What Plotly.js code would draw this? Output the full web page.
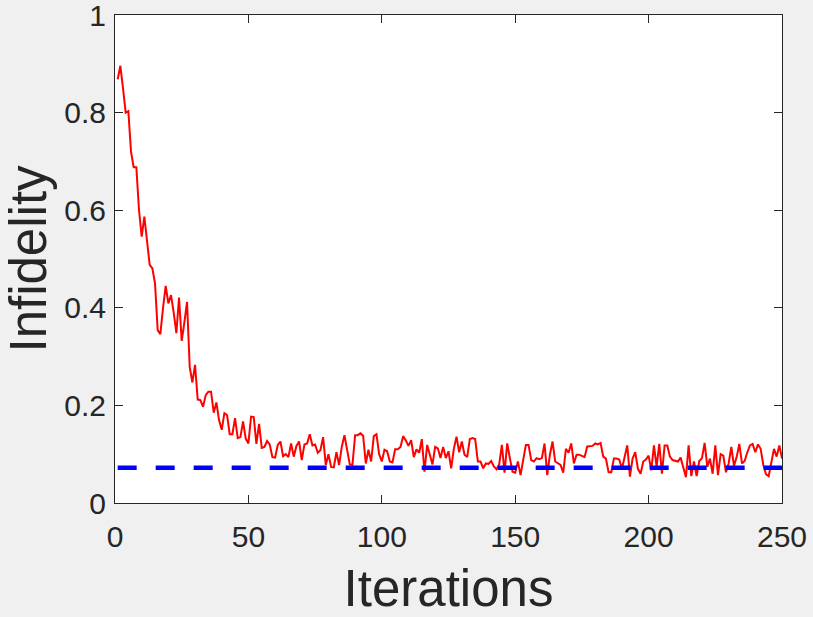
<!DOCTYPE html>
<html>
<head>
<meta charset="utf-8">
<script src="https://cdn.plot.ly/plotly-3.0.1.min.js"></script>
<style>
  html, body { margin: 0; padding: 0; background: #f0f0f0; }
  #chart { width: 813px; height: 617px; }
</style>
</head>
<body>
<div id="chart"></div>
<script>
// Infidelity recorded at each optimisation iteration
const infidelity = [
  0.868, 0.896, 0.850, 0.800, 0.803, 0.720, 0.688, 0.688, 0.600, 0.546,
  0.587, 0.535, 0.488, 0.481, 0.450, 0.354, 0.346, 0.400, 0.445, 0.409,
  0.426, 0.390, 0.348, 0.421, 0.332, 0.370, 0.412, 0.279, 0.247, 0.283,
  0.212, 0.211, 0.197, 0.221, 0.228, 0.228, 0.185, 0.206, 0.170, 0.150,
  0.184, 0.180, 0.141, 0.141, 0.174, 0.133, 0.135, 0.167, 0.132, 0.122,
  0.177, 0.176, 0.121, 0.162, 0.113, 0.115, 0.127, 0.120, 0.094, 0.093,
  0.119, 0.126, 0.096, 0.100, 0.094, 0.122, 0.095, 0.117, 0.126, 0.088,
  0.120, 0.122, 0.141, 0.118, 0.120, 0.103, 0.108, 0.135, 0.078, 0.100,
  0.074, 0.073, 0.104, 0.078, 0.115, 0.139, 0.104, 0.079, 0.078, 0.139,
  0.139, 0.143, 0.138, 0.081, 0.109, 0.085, 0.137, 0.141, 0.100, 0.085,
  0.109, 0.106, 0.085, 0.083, 0.110, 0.110, 0.115, 0.137, 0.128, 0.117,
  0.129, 0.094, 0.110, 0.103, 0.131, 0.064, 0.119, 0.096, 0.079, 0.115,
  0.112, 0.092, 0.115, 0.092, 0.106, 0.071, 0.111, 0.136, 0.104, 0.126,
  0.099, 0.094, 0.131, 0.133, 0.131, 0.085, 0.085, 0.071, 0.081, 0.080,
  0.086, 0.075, 0.069, 0.079, 0.119, 0.062, 0.122, 0.092, 0.064, 0.062,
  0.085, 0.057, 0.085, 0.119, 0.119, 0.088, 0.085, 0.092, 0.090, 0.092,
  0.122, 0.057, 0.099, 0.126, 0.085, 0.081, 0.078, 0.062, 0.111, 0.103,
  0.122, 0.081, 0.099, 0.099, 0.097, 0.094, 0.116, 0.116, 0.117, 0.122,
  0.120, 0.123, 0.095, 0.091, 0.063, 0.063, 0.091, 0.091, 0.089, 0.070,
  0.095, 0.118, 0.054, 0.091, 0.104, 0.070, 0.060, 0.085, 0.089, 0.097,
  0.067, 0.118, 0.074, 0.121, 0.060, 0.118, 0.118, 0.095, 0.088, 0.087,
  0.085, 0.093, 0.074, 0.053, 0.118, 0.055, 0.085, 0.055, 0.086, 0.092,
  0.123, 0.074, 0.091, 0.060, 0.118, 0.057, 0.100, 0.097, 0.063, 0.081,
  0.115, 0.076, 0.094, 0.121, 0.081, 0.086, 0.104, 0.118, 0.121, 0.104,
  0.120, 0.111, 0.078, 0.059, 0.055, 0.086, 0.111, 0.095, 0.118, 0.091
];
const iterations = infidelity.map((_, i) => i + 1);

// Reference level shown as a dashed horizontal line
const targetLevel = 0.072;
const targetX = [1, 250];
const targetY = [targetLevel, targetLevel];

const xTicks = [0, 50, 100, 150, 200, 250];
const yTicks = [0, 0.2, 0.4, 0.6, 0.8, 1];
const yTickText = ['0', '0.2', '0.4', '0.6', '0.8', '1'];

const textColor = '#262626';
const font = 'Liberation Sans, Arial, Helvetica, sans-serif';

const traces = [
  {
    x: iterations, y: infidelity, type: 'scatter', mode: 'lines',
    line: { color: '#ff0000', width: 2 },
    hoverinfo: 'x+y'
  },
  {
    x: targetX, y: targetY, type: 'scatter', mode: 'lines',
    line: { color: '#0000ff', width: 4.5, dash: '19px,19px' },
    hoverinfo: 'y'
  }
];

const axisCommon = {
  showgrid: false, zeroline: false,
  showline: true, linecolor: textColor, linewidth: 1,
  mirror: 'allticks', ticks: 'inside', ticklen: 8, tickwidth: 1,
  tickcolor: textColor,
  tickfont: { family: font, size: 30, color: textColor },
  ticklabeloverflow: 'allow',
  fixedrange: true
};

const layout = {
  width: 813, height: 617,
  paper_bgcolor: '#f0f0f0', plot_bgcolor: '#ffffff',
  margin: { l: 115, r: 31, t: 15, b: 114 },
  showlegend: false,
  xaxis: Object.assign({}, axisCommon, {
    range: [0, 250], tickvals: xTicks,
    ticklabelstandoff: 7,
    title: { text: 'Iterations', font: { family: font, size: 51, color: textColor }, standoff: 19 },
    automargin: false
  }),
  yaxis: Object.assign({}, axisCommon, {
    range: [0, 1], tickvals: yTicks, ticktext: yTickText,
    ticklabelstandoff: 2,
    title: { text: 'Infidelity', font: { family: font, size: 51, color: textColor }, standoff: 14 },
    automargin: false
  })
};

Plotly.newPlot('chart', traces, layout, { displayModeBar: false, staticPlot: true });
</script>
</body>
</html>
